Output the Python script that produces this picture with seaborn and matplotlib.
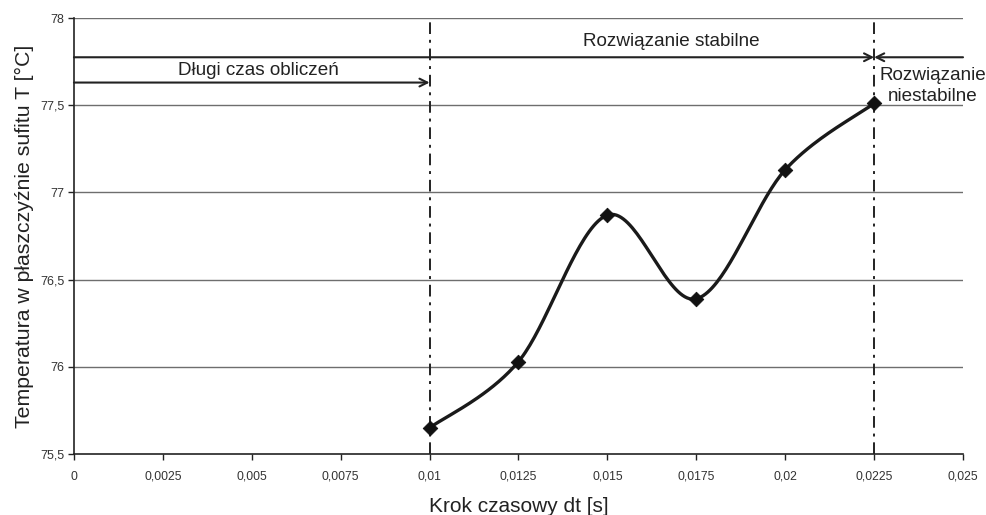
import numpy as np
import pandas as pd
import matplotlib
matplotlib.use("Agg")
import matplotlib.pyplot as plt
import seaborn as sns

# Time step vs. ceiling-plane temperature
dt_values = [0.01, 0.0125, 0.015, 0.0175, 0.02, 0.0225]
temperature = [75.65, 76.03, 76.87, 76.39, 77.13, 77.51]

x_ticks = [0, 0.0025, 0.005, 0.0075, 0.01, 0.0125, 0.015, 0.0175, 0.02, 0.0225, 0.025]
x_tick_labels = ["0", "0,0025", "0,005", "0,0075", "0,01", "0,0125", "0,015",
                 "0,0175", "0,02", "0,0225", "0,025"]
y_ticks = [75.5, 76, 76.5, 77, 77.5, 78]
y_tick_labels = ["75,5", "76", "76,5", "77", "77,5", "78"]

stable_limit = 0.0225
long_time_limit = 0.01

df = pd.DataFrame({"dt": dt_values, "T": temperature})

sns.set_theme(style="white")
plt.rcParams["font.family"] = ["Liberation Sans", "DejaVu Sans"]

fig = plt.figure(figsize=(9.86, 5.15), dpi=100)
ax = fig.add_axes([0.075, 0.1184, 0.9017, 0.8466])


def smooth_curve(x, y, n=40):
    """Cubic Bezier smoothing through every point (Catmull-Rom style)."""
    p = np.column_stack([x, y])
    out = []
    for i in range(len(p) - 1):
        p0 = p[i - 1] if i > 0 else p[i]
        p1 = p[i]
        p2 = p[i + 1]
        p3 = p[i + 2] if i + 2 < len(p) else p[i + 1]
        c1 = p1 + (p2 - p0) / 6.0
        c2 = p2 - (p3 - p1) / 6.0
        t = np.linspace(0, 1, n)[:, None]
        seg = ((1 - t) ** 3) * p1 + 3 * ((1 - t) ** 2) * t * c1 + 3 * (1 - t) * t ** 2 * c2 + t ** 3 * p2
        out.append(seg if i == 0 else seg[1:])
    s = np.vstack(out)
    return s[:, 0], s[:, 1]


# horizontal grid lines
for yv in y_ticks[1:]:
    ax.axhline(yv, color="#6e6e6e", lw=1.0, zorder=1)

# boundaries between regimes
for xv in (long_time_limit, stable_limit):
    ax.axvline(xv, color="#222222", lw=1.4, linestyle=(0, (6, 3, 1.5, 3)), zorder=2)

sx, sy = smooth_curve(np.array(dt_values), np.array(temperature))
sns.lineplot(x=sx, y=sy, ax=ax, color="#1a1a1a", lw=2.4, sort=False, zorder=3)
sns.scatterplot(data=df, x="dt", y="T", ax=ax, marker="D", s=55, color="#111111",
                edgecolor="#111111", zorder=4)

# range arrows
arrow_kw = dict(arrowstyle="->", color="#222222", lw=1.5, mutation_scale=14,
                shrinkA=0, shrinkB=0)
ax.annotate("", xy=(stable_limit, 77.775), xytext=(0, 77.775), arrowprops=arrow_kw, zorder=5)
ax.annotate("", xy=(stable_limit, 77.775), xytext=(0.025, 77.775), arrowprops=arrow_kw, zorder=5)
ax.annotate("", xy=(long_time_limit, 77.63), xytext=(0, 77.63), arrowprops=arrow_kw, zorder=5)

ax.text(0.0052, 77.70, "Długi czas obliczeń", ha="center", va="center", fontsize=13.6, color="#222222")
ax.text(0.0168, 77.865, "Rozwiązanie stabilne", ha="center", va="center", fontsize=13.6, color="#222222")
ax.text(0.02415, 77.61, "Rozwiązanie\nniestabilne", ha="center", va="center", fontsize=13.6,
        color="#222222", linespacing=1.3)

ax.set_xlim(0, 0.025)
ax.set_ylim(75.5, 78)
ax.set_xticks(x_ticks)
ax.set_xticklabels(x_tick_labels, fontsize=8.8)
ax.set_yticks(y_ticks)
ax.set_yticklabels(y_tick_labels, fontsize=9)
ax.tick_params(axis="both", direction="out", length=4, width=1, color="#222222",
               labelcolor="#333333", bottom=True, left=True, pad=8)
ax.tick_params(axis="y", pad=3)

ax.set_xlabel("Krok czasowy dt [s]", fontsize=15, color="#222222", labelpad=10)
ax.set_ylabel("Temperatura w płaszczyźnie sufitu T [°C]", fontsize=15.3, color="#222222", labelpad=4)

for side in ("top", "right"):
    ax.spines[side].set_visible(False)
for side in ("left", "bottom"):
    ax.spines[side].set_color("#222222")
    ax.spines[side].set_linewidth(1.2)

fig.savefig("out.png", dpi=100, facecolor="white")
